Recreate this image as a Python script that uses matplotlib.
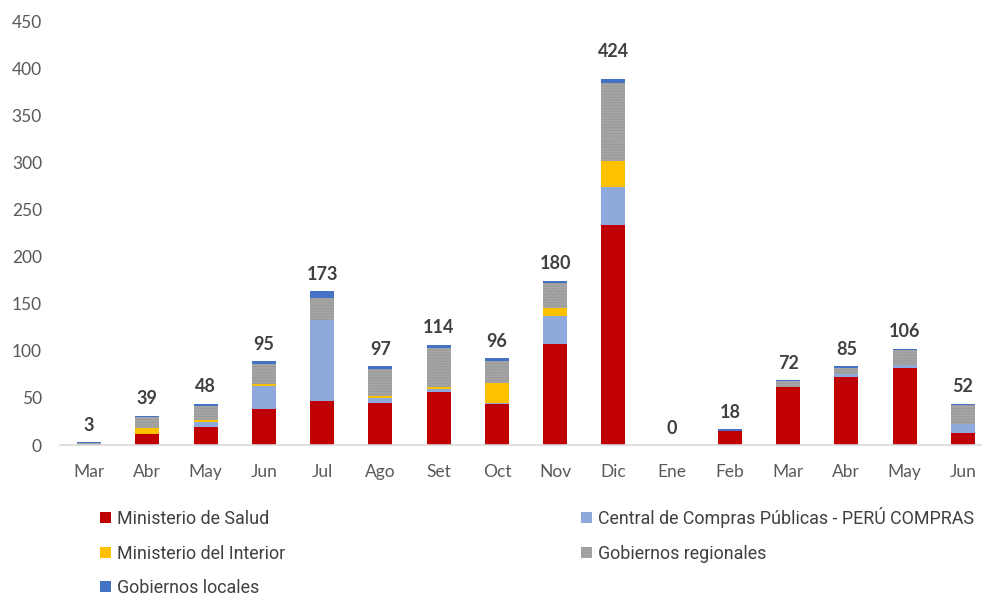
import matplotlib.pyplot as plt
import numpy as np

months = ['Mar', 'Abr', 'May', 'Jun', 'Jul', 'Ago', 'Set', 'Oct', 'Nov', 'Dic',
          'Ene', 'Feb', 'Mar', 'Abr', 'May', 'Jun']
salud = [0, 11.3, 19.5, 37.9, 47, 44.9, 56.6, 43.9, 106.9, 233.6, 0, 14.9, 61.9, 72.5, 81.4, 12.4]
peru_compras = [0, 0, 5.3, 24.8, 86.3, 4.6, 3.2, 1.1, 30.1, 40.3, 0, 0.5, 0, 3.2, 3.5, 10.3]
interior = [0, 6.7, 1.8, 2.1, 0, 2.1, 2.1, 20.5, 8.8, 27.6, 0, 0, 0, 0, 0, 0]
regionales = [2, 11.7, 14.5, 20.9, 23, 28.7, 41.4, 23.7, 26.5, 83.1, 0, 0, 6, 5.7, 15.9, 19.8]
locales = [0.8, 1.4, 2.5, 3.2, 7.1, 3.5, 3.5, 2.8, 2.5, 4.2, 0, 1.2, 1, 2.5, 1.4, 1.1]
totales = [3, 39, 48, 95, 173, 97, 114, 96, 180, 424, 0, 18, 72, 85, 106, 52]

series = [
    ('Ministerio de Salud', salud, '#C00000', None),
    ('Central de Compras Públicas - PERÚ COMPRAS', peru_compras, '#8EA9DB', None),
    ('Ministerio del Interior', interior, '#FFC000', None),
    ('Gobiernos regionales', regionales, '#A5A5A5', '......'),
    ('Gobiernos locales', locales, '#4472C4', None),
]

plt.rcParams['hatch.linewidth'] = 0.4

fig = plt.figure(figsize=(9.82, 5.96), dpi=100)
ax = fig.add_axes([60/982, 151/596, 932/982, 423.3/596])

x = np.arange(len(months))
bottom = np.zeros(len(months))
handles = {}
for name, vals, col, hatch in series:
    vals = np.array(vals, dtype=float)
    b = ax.bar(x, vals, 0.41, bottom=bottom, color=col, hatch=hatch,
               edgecolor='#8A8A8A' if hatch else col, linewidth=0, label=name)
    handles[name] = b
    bottom += vals

# totals above bars
for i, t in enumerate(totales):
    off = 28 if t == max(totales) else 17
    ax.annotate(str(t), (x[i], bottom[i]), xytext=(0, off * 0.72), textcoords='offset points',
                ha='center', va='center', fontsize=13, fontweight='bold',
                color='#404040', family='Lato')

ax.set_xlim(-0.5, 15.5)
ax.set_ylim(0, 450)
ax.set_yticks(range(0, 451, 50))
ax.set_xticks(x)
ax.set_xticklabels(months)
for lab in ax.get_xticklabels() + ax.get_yticklabels():
    lab.set_family('Lato')
    lab.set_fontsize(12.5)
    lab.set_color('#595959')
ax.tick_params(axis='both', length=0)
ax.tick_params(axis='x', pad=14)
ax.tick_params(axis='y', pad=13)
for s in ['top', 'right', 'left']:
    ax.spines[s].set_visible(False)
ax.spines['bottom'].set_color('#D9D9D9')
ax.spines['bottom'].set_linewidth(1.2)

order = ['Ministerio de Salud', 'Ministerio del Interior', 'Gobiernos locales',
         'Central de Compras Públicas - PERÚ COMPRAS', 'Gobiernos regionales']
leg = fig.legend([handles[n] for n in order], order, ncol=2, loc='upper left',
                 bbox_to_anchor=(84/982, 1 - 491/596), frameon=False,
                 prop={'family': 'Roboto', 'size': 12.9},
                 handlelength=0.6, handleheight=0.6, handletextpad=0.35,
                 labelspacing=0.92, columnspacing=16.5, labelcolor='#404040')

fig.savefig('out.png', dpi=100)
